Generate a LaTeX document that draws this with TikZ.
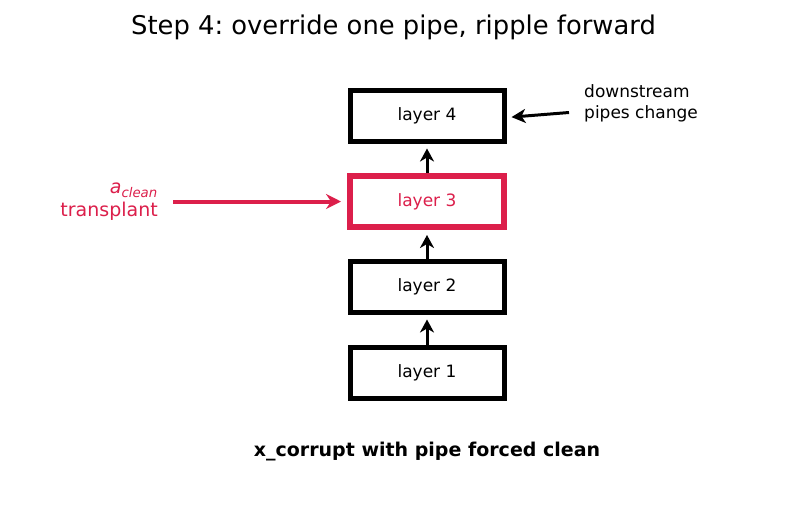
\documentclass[tikz,border=0pt]{standalone}
\usepackage{fontspec}
\setmainfont{DejaVu Sans}
\usetikzlibrary{arrows.meta}
\definecolor{crim}{HTML}{DC1F4B}
\frenchspacing
\tikzset{
  layerbox/.style={draw=black, line width=5pt, minimum width=154pt, minimum height=51pt, inner sep=0pt, font=\fontsize{17}{20}\selectfont},
  uparrow/.style={draw=black, line width=3pt, shorten >=5pt, -{Stealth[length=13pt,width=14pt,inset=4pt]}},
}
\begin{document}
\begin{tikzpicture}[x=1pt,y=-1pt]
\useasboundingbox[fill=white] (0,0) rectangle (787,512);
\node[font=\fontsize{25.8}{30}\selectfont] (title) at (393.5,27.5) {Step 4: override one pipe, ripple forward};
\node[layerbox] (l4) at (427,115.5) {layer 4};
\node[layerbox, draw=crim, text=crim, line width=6pt] (l3) at (427,201.5) {layer 3};
\node[layerbox] (l2) at (427,286.5) {layer 2};
\node[layerbox] (l1) at (427,372.5) {layer 1};
\draw[uparrow] (l1.north) -- (l2.south);
\draw[uparrow] (l2.north) -- (l3.south);
\draw[uparrow] (l3.north) -- (l4.south);
\node[anchor=east, align=right, text=crim, font=\fontsize{19}{23}\selectfont, inner sep=0pt] (lab) at (158,201.5) {$\mathit{a}_{\mathit{clean}}$\\transplant};
\coordinate (rs) at (173,201.5);
\draw[crim, line width=4pt, shorten >=6pt, -{Stealth[length=15pt,width=15pt,inset=5pt]}] (rs) -- (l3.west);
\node[anchor=west, align=left, font=\fontsize{17}{21}\selectfont, inner sep=0pt] (ds) at (584,103.5) {downstream\\pipes change};
\coordinate (dsa) at (569,112.5);
\draw[black, line width=3pt, shorten >=5pt, -{Stealth[length=14pt,width=14pt,inset=4pt]}] (dsa) -- ([yshift=-2pt]l4.east);
\node[font=\bfseries\fontsize{19}{22}\selectfont] (cap) at (427,452) {x\_corrupt with pipe forced clean};
\end{tikzpicture}
\end{document}
